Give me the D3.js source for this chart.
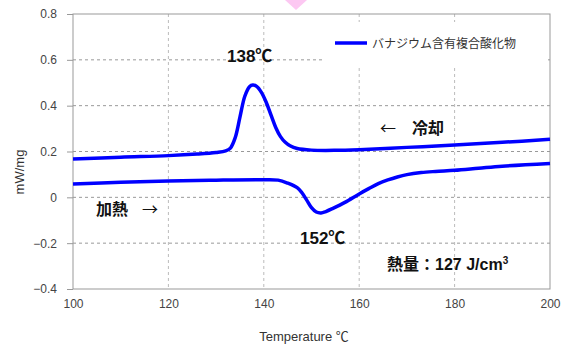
<!DOCTYPE html>
<html>
<head>
<meta charset="utf-8">
<script src="https://cdn.jsdelivr.net/npm/d3@7"></script>
<style>
  body { margin: 0; background: #fff; }
  svg { display: block; }
  .tick text { font-family: "Liberation Sans", Arial, sans-serif; font-size: 12px; fill: #444; }
  .ann { font-family: "Liberation Sans", "Noto Sans CJK JP", sans-serif; font-weight: bold; fill: #111; }
</style>
</head>
<body>
<div id="chart"></div>
<script>
// svg size
var width = 574;
var height = 345;
var margin = { top: 14, right: 24, bottom: 56, left: 73 };
var chartWidth = width - margin.left - margin.right;
var chartHeight = height - margin.top - margin.bottom;

// data
var xTicks = [100, 120, 140, 160, 180, 200];
var yTicks = [-0.4, -0.2, 0, 0.2, 0.4, 0.6, 0.8];

var coolTemp = [100, 110, 120, 126, 130, 132, 133, 134, 135, 136, 137, 137.7, 138.5, 139.5, 140.5, 141.5, 142.5, 143.5, 144.5, 145.5, 147, 150, 155, 160, 170, 180, 190, 200];
var coolValue = [0.167, 0.175, 0.182, 0.189, 0.196, 0.203, 0.215, 0.26, 0.35, 0.44, 0.483, 0.49, 0.484, 0.458, 0.415, 0.36, 0.305, 0.265, 0.24, 0.225, 0.213, 0.206, 0.205, 0.208, 0.218, 0.228, 0.24, 0.253];

var heatTemp = [100, 110, 120, 130, 140, 143, 145, 147, 148, 149, 150, 151, 152, 153, 154.5, 157, 160, 162, 164, 166, 168, 170, 173, 176, 180, 185, 190, 200];
var heatValue = [0.058, 0.066, 0.071, 0.075, 0.077, 0.075, 0.062, 0.042, 0.02, -0.012, -0.045, -0.064, -0.068, -0.062, -0.048, -0.022, 0.015, 0.038, 0.06, 0.076, 0.089, 0.099, 0.108, 0.113, 0.118, 0.127, 0.136, 0.148];

var legendLabel = "バナジウム含有複合酸化物";
var lineColor = "#0000ff";

var svg = d3.select("#chart").append("svg")
  .attr("width", width)
  .attr("height", height);

// pink marker at top
svg.append("path")
  .attr("d", "M285,0 L307,0 L296,10 Z")
  .attr("fill", "#fcc8f2");

var chartGroup = svg.append("g")
  .attr("transform", `translate(${margin.left}, ${margin.top})`);

var x = d3.scaleLinear().domain([100, 200]).range([0, chartWidth]);
var y = d3.scaleLinear().domain([-0.4, 0.8]).range([chartHeight, 0]);

// grid lines
chartGroup.append("g")
  .selectAll("line")
  .data(yTicks.filter(d => d > -0.4 && d < 0.8))
  .enter().append("line")
  .attr("x1", 0).attr("x2", chartWidth)
  .attr("y1", d => y(d)).attr("y2", d => y(d))
  .attr("stroke", "#999").attr("stroke-dasharray", "3,3");

chartGroup.append("g")
  .selectAll("line")
  .data(xTicks.filter(d => d > 100 && d < 200))
  .enter().append("line")
  .attr("y1", 0).attr("y2", chartHeight)
  .attr("x1", d => x(d)).attr("x2", d => x(d))
  .attr("stroke", "#bbb").attr("stroke-dasharray", "3,3");

// legend box covers grid
chartGroup.append("rect")
  .attr("x", 325 - margin.left).attr("y", 22 - margin.top)
  .attr("width", 223).attr("height", 43)
  .attr("fill", "#fff");

// frame
chartGroup.append("rect")
  .attr("x", 0).attr("y", 0)
  .attr("width", chartWidth).attr("height", chartHeight)
  .attr("fill", "none").attr("stroke", "#999");

// axes
var bottomAxis = d3.axisBottom(x).tickValues(xTicks).tickSize(0).tickPadding(10);
var leftAxis = d3.axisLeft(y).tickValues(yTicks).tickSize(6).tickPadding(10)
  .tickFormat(d => d === 0 ? "0" : d3.format(".1f")(d));

var xAxis = chartGroup.append("g")
  .attr("transform", `translate(0, ${chartHeight})`)
  .call(bottomAxis);
xAxis.select(".domain").remove();

var yAxis = chartGroup.append("g").call(leftAxis);
yAxis.select(".domain").remove();
yAxis.selectAll(".tick line").attr("stroke", "#999").attr("x2", 0).attr("x1", -6);
yAxis.selectAll(".tick text").attr("x", -16);

// curves
var line = d3.line()
  .x(d => x(d[0]))
  .y(d => y(d[1]))
  .curve(d3.curveCatmullRom.alpha(0.5));

var coolData = coolTemp.map((t, i) => [t, coolValue[i]]);
var heatData = heatTemp.map((t, i) => [t, heatValue[i]]);

[coolData, heatData].forEach(function(data) {
  chartGroup.append("path")
    .datum(data)
    .attr("d", line)
    .attr("fill", "none")
    .attr("stroke", lineColor)
    .attr("stroke-width", 3.5)
    .attr("stroke-linejoin", "round");
});

// legend
svg.append("line")
  .attr("x1", 335).attr("x2", 367).attr("y1", 43).attr("y2", 43)
  .attr("stroke", lineColor).attr("stroke-width", 3.5);
svg.append("text")
  .attr("x", 372).attr("y", 48)
  .style("font-family", "'Noto Sans CJK JP', sans-serif")
  .style("font-size", "12px")
  .style("fill", "#333")
  .text(legendLabel);

// axis titles
svg.append("text")
  .attr("transform", "translate(24, 172) rotate(-90)")
  .attr("text-anchor", "middle")
  .style("font-family", "'Liberation Sans', Arial, sans-serif")
  .style("font-size", "13px")
  .style("fill", "#333")
  .text("mW/mg");

svg.append("text")
  .attr("x", 304).attr("y", 341)
  .attr("text-anchor", "middle")
  .style("font-family", "'Liberation Sans', 'Noto Sans CJK JP', sans-serif")
  .style("font-size", "13px")
  .style("fill", "#333")
  .text("Temperature ℃");

// annotations
svg.append("text").attr("class", "ann")
  .attr("x", 227).attr("y", 62).style("font-size", "17px").text("138℃");
svg.append("text").attr("class", "ann")
  .attr("x", 300).attr("y", 244).style("font-size", "17px").text("152℃");

var heatLabel = svg.append("text").attr("class", "ann")
  .attr("x", 96).attr("y", 215).style("font-size", "16px");
heatLabel.append("tspan").text("加熱");
heatLabel.append("tspan").attr("x", 142)
  .style("font-family", "'Noto Sans CJK JP', sans-serif").style("font-weight", "normal")
  .text("→");

var coolLabel = svg.append("text").attr("class", "ann")
  .attr("x", 380).attr("y", 134).style("font-size", "16px");
coolLabel.append("tspan")
  .style("font-family", "'Noto Sans CJK JP', sans-serif").style("font-weight", "normal")
  .text("←");
coolLabel.append("tspan").attr("x", 412).text("冷却");

var heatText = svg.append("text").attr("class", "ann")
  .attr("x", 387).attr("y", 270).style("font-size", "16px");
heatText.append("tspan").text("熱量：127 J/cm");
heatText.append("tspan").attr("dy", -6).style("font-size", "10px").text("3");
</script>
</body>
</html>
